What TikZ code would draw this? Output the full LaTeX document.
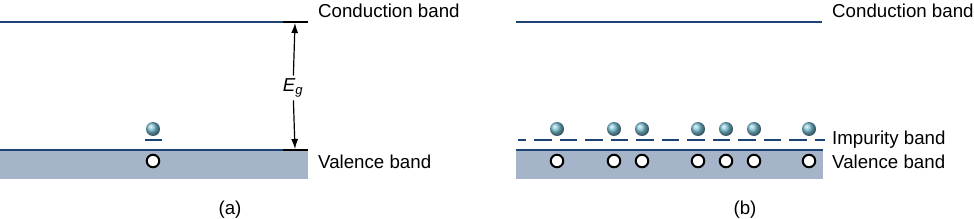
\documentclass[tikz,border=0pt]{standalone}
\usepackage{fontspec}
\setmainfont{Liberation Sans}
\usetikzlibrary{arrows.meta,positioning}
\definecolor{bandline}{RGB}{30,68,118}
\definecolor{bandfill}{RGB}{165,180,201}
\definecolor{electron}{RGB}{120,190,210}
\tikzset{
  >={Latex[length=10pt,width=7pt]},
  level/.style={draw=bandline, line width=2pt},
  valence/.style={fill=bandfill, draw=none},
  impurity/.style={draw=bandline, line width=2pt, dash pattern=on 17.5pt off 8pt, dash phase=9.5pt},
  elec/.style={circle, inner sep=0pt, minimum size=14pt, ball color=electron, draw=none},
  hole/.style={circle, inner sep=0pt, minimum size=12.5pt, draw=black, line width=2pt, fill=white},
  bandlabel/.style={font=\fontsize{18.7}{22}\selectfont, anchor=west, inner sep=0pt},
  panellabel/.style={font=\fontsize{18.7}{22}\selectfont, inner sep=0pt}
}
\begin{document}
\begin{tikzpicture}[x=1pt, y=-1pt]
\useasboundingbox (0,0) rectangle (974,219);

% 1 : Panel (a)
\fill[valence] (0,150) rectangle (308,179);
\draw[level] (0,22) -- (283,22);
\draw[level] (0,150) -- (283,150);
\draw[line width=2pt] (283,22) -- (308,22);
\draw[line width=2pt] (283,150) -- (308,150);
\draw[level] (145,140) -- (162,140);
\node[elec] (ea) at (153,129) {};
\node[hole] (ha) at (153,161) {};

% 2 : Band gap
\coordinate (gaptop) at (295,23);
\coordinate (gapbot) at (295,149);
\node[panellabel, fill=white, inner sep=3pt] (gap) at (293,88) {\textit{E}\textsubscript{\textit{g}}};
\draw[->, line width=1.2pt] (gap) -- (gaptop);
\draw[->, line width=1.2pt] (gap) -- (gapbot);

\node[bandlabel] (conda) at (318,11) {Conduction band};
\node[bandlabel] (vala) at (318,162) {Valence band};
\node[panellabel] (capa) at (230,210) {(a)};

% 3 : Panel (b)
\fill[valence] (516,150) rectangle (823,179);
\draw[level] (516,22) -- (822,22);
\draw[level] (516,150) -- (823,150);
\draw[impurity] (518,140) -- (825,140);
\foreach \x [count=\i] in {557,614,642,698,726,754,809}{
  \node[elec] (eb\i) at (\x,129) {};
  \node[hole] (hb\i) at (\x,161) {};
}

\node[bandlabel] (condb) at (832,11) {Conduction band};
\node[bandlabel] (impb) at (832,140) {Impurity band};
\node[bandlabel] (valb) at (832,162) {Valence band};
\node[panellabel] (capb) at (745,210) {(b)};

\end{tikzpicture}
\end{document}
